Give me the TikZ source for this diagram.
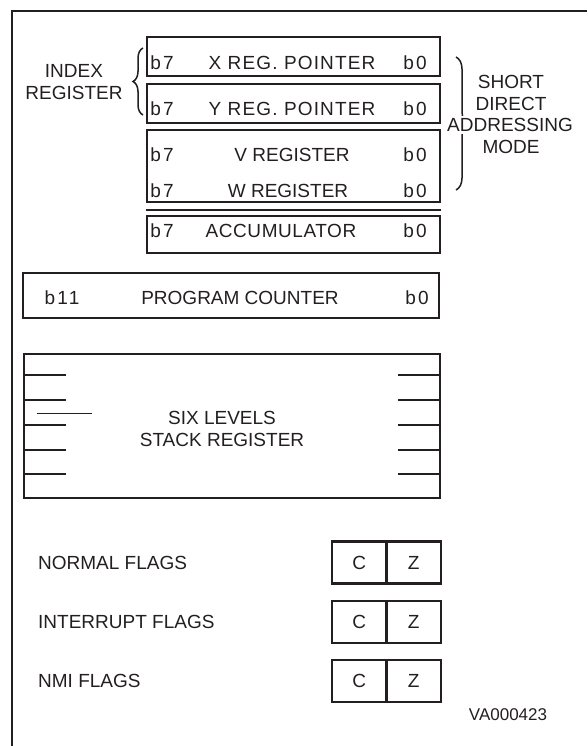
\documentclass[tikz,border=0pt]{standalone}
\usepackage{fontspec}
\setmainfont{Liberation Sans}
\usetikzlibrary{decorations.pathreplacing,positioning}

\definecolor{ink}{RGB}{35,31,32}
\newcommand{\regfont}{\fontsize{19}{22}\selectfont}

\tikzset{
  regbox/.style={draw=ink, line width=2.2pt, minimum width=293pt, inner sep=0pt},
  widebox/.style={draw=ink, line width=2.2pt, minimum width=416pt, inner sep=0pt},
  flagbox/.style={draw=ink, line width=2.2pt, minimum width=54.5pt, minimum height=42pt,
    inner sep=0pt, outer sep=0pt},
  bitlabel/.style={anchor=base, inner sep=0pt, font=\regfont\addfontfeature{LetterSpace=12}},
  reglabel/.style={anchor=base, inner sep=0pt},
  tick/.style={ink, line width=2pt},
  curly/.style={ink, line width=1.5pt, decorate, decoration={brace, amplitude=#1}},
}

\begin{document}
\begin{tikzpicture}[x=1pt, y=-1pt, font=\regfont, text=ink]
    \useasboundingbox (0,0) rectangle (587,746);

    % Cadre
    \draw[ink, line width=1.6pt] (12,746) -- (12,11);
    \draw[ink, line width=2.5pt] (11,11) -- (587,11);

    % Registres 8 bits
    \node[regbox, minimum height=39pt] (xreg) at (293.5,56.5) {};
    \node[regbox, minimum height=39pt] (yreg) at (293.5,103.5) {};
    \node[regbox, minimum height=72pt] (vwreg) at (293.5,166) {};
    \node[regbox, minimum height=37pt] (acc) at (293.5,234.5) {};
    \draw[tick] ([yshift=-7pt]vwreg.south west) -- ([yshift=-7pt]vwreg.south east);

    \foreach \nm/\yb/\txt/\xt/\ls in {xr/70/{X REG. POINTER}/292/6, yr/116/{Y REG. POINTER}/292/6,
        vr/161/V REGISTER/292/0, wr/197/W REGISTER/288/0, ac/237/ACCUMULATOR/281/3} {
        \node[bitlabel] (\nm7) at (162,\yb) {b7};
        \node[reglabel, font=\regfont\addfontfeature{LetterSpace=\ls}] (\nm) at (\xt,\yb) {\txt};
        \node[bitlabel] (\nm0) at (415,\yb) {b0};
    }

    % Index register
    \coordinate (ibtop) at (143,48);
    \coordinate (ibbot) at (143,115);
    \draw[curly=10pt] (ibbot) -- (ibtop);
    \node[align=center] (index) at (74,82.5) {INDEX\\REGISTER};

    % Short direct addressing mode
    \coordinate (sdtop) at (456,57);
    \coordinate (sdbot) at (456,190);
    \draw[curly=12pt] (sdtop) -- (sdbot);
    \node[align=center] (sd) at (511,92.5) {SHORT\\DIRECT};
    \node[fill=white, inner sep=2pt] (addr) at (510,125) {ADDRESSING};
    \node (mode) at (511,146.5) {MODE};

    % Compteur de programme
    \node[widebox, minimum height=45pt] (pc) at (231,295.5) {};
    \node[bitlabel] (pc11) at (62,304) {b11};
    \node[reglabel] (pcname) at (240,304) {PROGRAM COUNTER};
    \node[bitlabel] (pc0) at (417,304) {b0};

    % Pile
    \node[widebox, minimum height=144pt] (stack) at (232,426) {};
    \foreach \y in {375,400,425,450,474} {
        \draw[tick] (stack.west |- 0,\y) -- ++(43,0);
        \draw[tick] (stack.east |- 0,\y) -- ++(-43,0);
    }
    \draw[ink, line width=1pt] (37,413) -- (92,413);
    \node[align=center] (stacktxt) at (222,429) {SIX LEVELS\\STACK REGISTER};

    % Drapeaux
    \foreach \nm/\yc/\txt in {normal/562.5/NORMAL FLAGS, intr/622/INTERRUPT FLAGS, nmi/681/NMI FLAGS} {
        \node[flagbox] (\nm-c) at (359.25,\yc) {C};
        \node[flagbox, right=0pt of \nm-c] (\nm-z) {Z};
        \node[anchor=west, inner sep=0pt] (\nm-lbl) at (38,\yc) {\txt};
    }

    \node[font=\fontsize{17}{20}\selectfont] (code) at (508,715) {VA000423};
\end{tikzpicture}
\end{document}
